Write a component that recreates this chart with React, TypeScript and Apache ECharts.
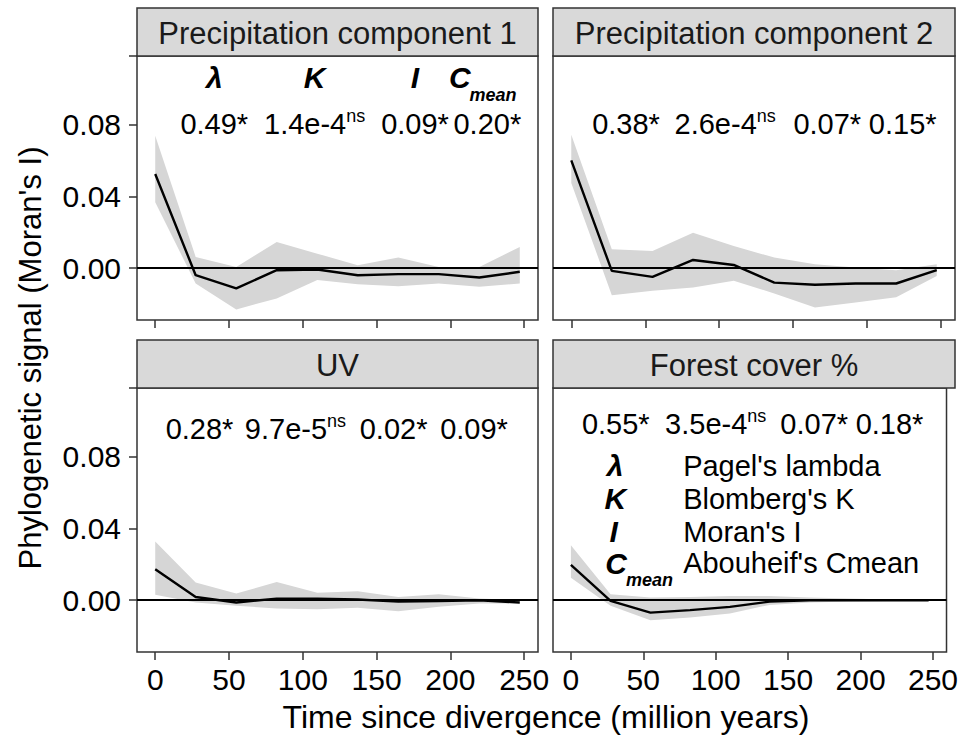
import React, { useEffect, useRef } from "react";
import * as echarts from "echarts";

// ---------- data ----------
const timeMya = [0, 27.4, 54.9, 82.3, 109.8, 137.2, 164.7, 192.1, 219.6, 247];
const xTicks = [0, 50, 100, 150, 200, 250];
const yTickLabels = [0, 0.04, 0.08];

const panelNames = ["Precipitation component 1", "Precipitation component 2", "UV", "Forest cover %"];

const precip1Mean = [0.0524, -0.0039, -0.0112, -0.0011, -0.0007, -0.0039, -0.0033, -0.0033, -0.0052, -0.002];
const precip1Upper = [0.0737, 0.0063, 0.0007, 0.0146, 0.0081, 0.0017, 0.0059, 0.0007, 0.0007, 0.0118];
const precip1Lower = [0.0367, -0.0085, -0.0229, -0.0168, -0.0066, -0.0089, -0.01, -0.0085, -0.0103, -0.0085];

const precip2Mean = [0.06, -0.0015, -0.0048, 0.0046, 0.0018, -0.008, -0.0092, -0.0085, -0.0085, -0.0011];
const precip2Upper = [0.0742, 0.0105, 0.0096, 0.0197, 0.0123, 0.0059, 0.0022, 0.0004, -0.0012, 0.0022];
const precip2Lower = [0.0474, -0.015, -0.0126, -0.0107, -0.007, -0.014, -0.0218, -0.019, -0.0162, -0.0043];

const uvMean = [0.0172, 0.0018, -0.0013, 0.0009, 0.0009, 0.0004, -0.0008, -0.0004, 0.0, -0.0013];
const uvUpper = [0.0327, 0.0098, 0.0037, 0.0101, 0.0042, 0.005, 0.0018, 0.0033, 0.0009, 0.0];
const uvLower = [0.0031, -0.0013, -0.0031, -0.0046, -0.005, -0.0042, -0.0061, -0.0037, -0.0018, -0.0018];

const forestMean = [0.0196, -0.0004, -0.0069, -0.0055, -0.0037, -0.0008, 0.0, 0.0, 0.0, 0.0];
const forestUpper = [0.0306, 0.0033, 0.0015, 0.0018, 0.0024, 0.0024, 0.0015, 0.0009, 0.0004, 0.0001];
const forestLower = [0.0125, -0.0031, -0.0111, -0.0096, -0.0074, -0.0026, -0.0013, -0.0007, -0.0004, -0.0001];

const lambdaVals = ["0.49", "0.38", "0.28", "0.55"];
const kVals = ["1.4e-4", "2.6e-4", "9.7e-5", "3.5e-4"];
const iVals = ["0.09", "0.07", "0.02", "0.07"];
const cVals = ["0.20", "0.15", "0.09", "0.18"];

const legendSymbols = ["λ", "K", "I", "C"];
const legendNames = ["Pagel's lambda", "Blomberg's K", "Moran's I", "Abouheif's Cmean"];

// ---------- layout ----------
const FONT = '"Liberation Sans", Arial, Helvetica, sans-serif';
const colLeft = [137, 553];
const colWidth = [401, 402];
const rowTop = [56, 388];
const panelH = 264;
const stripH = 48;
const X_MIN = -12.35;
const X_MAX = 259.35;
const Y_MIN = -0.0288;
const Y_MAX = 0.118;

// annotation anchor positions (data coords) per panel
const statX = [
  [40, 108, 176, 225],
  [37, 104, 173, 224],
  [30, 95, 161.5, 216],
  [31, 100, 168, 220],
];
const statY = [0.08, 0.08, 0.095, 0.098];
const headerY = 0.106;
const headerSymX = [40, 108, 176, 213];
const legendSymX = [30.6, 30.6, 29.5, 38];
const legendTextX = 77.5;
const legendY = [0.0748, 0.0565, 0.0382, 0.0205];

const means = [precip1Mean, precip2Mean, uvMean, forestMean];
const uppers = [precip1Upper, precip2Upper, uvUpper, forestUpper];
const lowers = [precip1Lower, precip2Lower, uvLower, forestLower];

export default function App() {
  const ref = useRef<HTMLDivElement>(null);

  useEffect(() => {
    document.body.style.margin = "0";
    const chart = echarts.init(ref.current!, null, { renderer: "svg", width: 961, height: 736 });

    const grids: any[] = [];
    const xAxes: any[] = [];
    const yAxes: any[] = [];
    const series: any[] = [];

    for (let i = 0; i < 4; i++) {
      const c = i % 2;
      const r = Math.floor(i / 2);
      grids.push({
        left: colLeft[c],
        top: rowTop[r],
        width: colWidth[c],
        height: panelH,
        show: true,
        borderColor: "#333333",
        borderWidth: 1.5,
        backgroundColor: "#ffffff",
        containLabel: false,
      });
      xAxes.push({
        type: "value",
        gridIndex: i,
        position: "bottom",
        min: X_MIN,
        max: X_MAX,
        splitLine: { show: false },
        axisLine: { show: false, onZero: false },
        axisTick: {
          show: true,
          length: 8,
          lineStyle: { color: "#333333", width: 1.5 },
          customValues: xTicks,
        },
        axisLabel: {
          show: r === 1,
          customValues: xTicks,
          fontSize: 30,
          fontFamily: FONT,
          color: "#000000",
          margin: 12,
        },
      });
      yAxes.push({
        type: "value",
        gridIndex: i,
        position: "left",
        min: Y_MIN,
        max: Y_MAX,
        splitLine: { show: false },
        axisLine: { show: false, onZero: false },
        axisTick: {
          show: c === 0,
          length: 8,
          lineStyle: { color: "#333333", width: 1.5 },
          customValues: [...yTickLabels, Y_MAX],
        },
        axisLabel: {
          show: c === 0,
          customValues: yTickLabels,
          formatter: (v: number) => v.toFixed(2),
          fontSize: 30,
          fontFamily: FONT,
          color: "#000000",
          margin: 16,
        },
      });

      const up = uppers[i];
      const lo = lowers[i];
      series.push({
        type: "custom",
        xAxisIndex: i,
        yAxisIndex: i,
        silent: true,
        data: timeMya.map((t, k) => [t, lo[k], up[k]]),
        encode: { x: 0, y: [1, 2] },
        renderItem: (params: any, api: any) => {
          if (params.dataIndex !== 0) return null;
          const top = timeMya.map((t, k) => api.coord([t, up[k]]));
          const bottom = timeMya.map((t, k) => api.coord([t, lo[k]])).reverse();
          return {
            type: "polygon",
            shape: { points: top.concat(bottom) },
            style: { fill: "#d6d6d6", stroke: "none" },
          };
        },
        z: 1,
      });
      series.push({
        type: "line",
        xAxisIndex: i,
        yAxisIndex: i,
        data: timeMya.map((t, k) => [t, means[i][k]]),
        symbol: "none",
        silent: true,
        lineStyle: { color: "#000000", width: 2.4 },
        z: 3,
        markLine: {
          silent: true,
          symbol: ["none", "none"],
          label: { show: false },
          lineStyle: { color: "#000000", width: 2, type: "solid" },
          data: [{ yAxis: 0 }],
          z: 2,
        },
      });
    }

    chart.setOption({
      animation: false,
      backgroundColor: "#ffffff",
      grid: grids,
      xAxis: xAxes,
      yAxis: yAxes,
      series,
    });

    const px = (gi: number, x: number, y: number) =>
      chart.convertToPixel({ gridIndex: gi } as any, [x, y]) as number[];

    const valRich = {
      v: { fontSize: 29, fontFamily: FONT, fill: "#000000", lineHeight: 34 },
      sup: { fontSize: 18, fontFamily: FONT, fill: "#000000", lineHeight: 22, verticalAlign: "top" },
    };
    const symStyle = {
      fontSize: 30,
      lineHeight: 28,
      fontFamily: FONT,
      fontWeight: "bold",
      fontStyle: "italic",
      fill: "#000000",
      verticalAlign: "middle",
    };

    const graphics: any[] = [];
    const pushSymbol = (s: string, p: number[]) => {
      if (s === "C") {
        graphics.push({
          type: "text",
          x: p[0] + 1,
          y: p[1],
          style: { ...symStyle, text: "C", align: "right" },
          z: 11,
        });
        graphics.push({
          type: "text",
          x: p[0],
          y: p[1] + 17,
          style: { ...symStyle, fontSize: 18, lineHeight: 18, text: "mean", align: "left" },
          z: 11,
        });
      } else {
        graphics.push({
          type: "text",
          x: p[0],
          y: p[1],
          style: { ...symStyle, text: s, align: "center" },
          z: 11,
        });
      }
    };

    for (let i = 0; i < 4; i++) {
      const c = i % 2;
      const r = Math.floor(i / 2);
      const sTop = rowTop[r] - stripH;
      graphics.push({
        type: "rect",
        shape: { x: colLeft[c], y: sTop, width: colWidth[c], height: stripH },
        style: { fill: "#d9d9d9", stroke: "#333333", lineWidth: 1.5 },
        z: 10,
      });
      graphics.push({
        type: "text",
        x: colLeft[c] + colWidth[c] / 2,
        y: sTop + stripH / 2 + 1,
        style: {
          text: panelNames[i],
          fontSize: 31,
          fontFamily: FONT,
          fill: "#1a1a1a",
          align: "center",
          verticalAlign: "middle",
        },
        z: 11,
      });
      const vals = [
        `{v|${lambdaVals[i]}*}`,
        `{v|${kVals[i]}}{sup|ns}`,
        `{v|${iVals[i]}*}`,
        `{v|${cVals[i]}*}`,
      ];
      vals.forEach((t, k) => {
        const p = px(i, statX[i][k], statY[i]);
        graphics.push({
          type: "text",
          x: p[0],
          y: p[1],
          style: { text: t, rich: valRich, align: "center", verticalAlign: "middle" },
          z: 11,
        });
      });
    }
    // header symbols in first panel
    legendSymbols.forEach((s, k) => {
      pushSymbol(s, px(0, headerSymX[k], headerY));
    });
    // legend in forest panel
    legendSymbols.forEach((s, k) => {
      pushSymbol(s, px(3, legendSymX[k], legendY[k]));
      const q = px(3, legendTextX, legendY[k]);
      graphics.push({
        type: "text",
        x: q[0],
        y: q[1],
        style: {
          text: legendNames[k],
          fontSize: 29,
          lineHeight: 28,
          fontFamily: FONT,
          fill: "#000000",
          align: "left",
          verticalAlign: "middle",
        },
        z: 11,
      });
    });
    // axis titles
    graphics.push({
      type: "text",
      x: 30,
      y: 358,
      rotation: Math.PI / 2,
      style: {
        text: "Phylogenetic signal (Moran's I)",
        fontSize: 31,
        fontFamily: FONT,
        fill: "#000000",
        align: "center",
        verticalAlign: "middle",
      },
      z: 11,
    });
    graphics.push({
      type: "text",
      x: 546,
      y: 717,
      style: {
        text: "Time since divergence (million years)",
        fontSize: 32,
        fontFamily: FONT,
        fill: "#000000",
        align: "center",
        verticalAlign: "middle",
      },
      z: 11,
    });

    chart.setOption({ graphic: graphics });

    return () => chart.dispose();
  }, []);

  return <div ref={ref} style={{ width: 961, height: 736 }} />;
}
